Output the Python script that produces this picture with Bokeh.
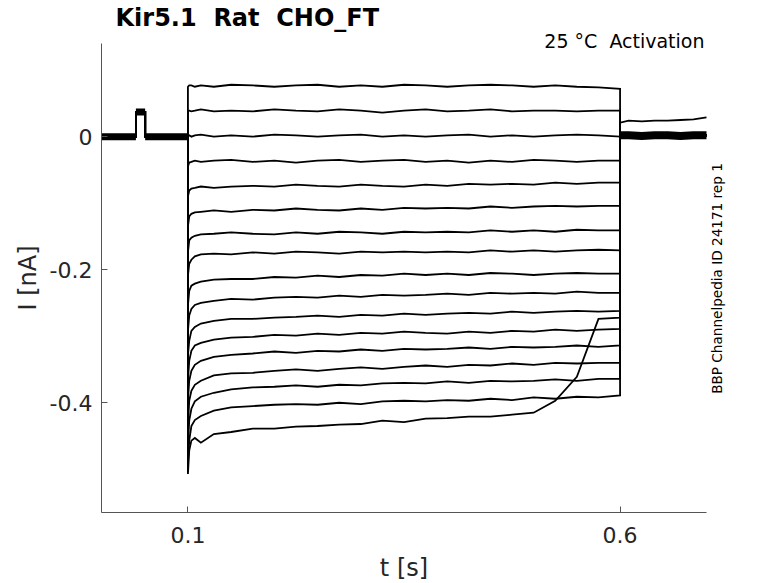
import math
from bokeh.plotting import figure
from bokeh.models import FixedTicker, Label, Range1d
from bokeh.embed import file_html
from bokeh.resources import INLINE

# ---------------- data ----------------
x_limits = (0.0, 0.7)
y_limits = (-0.565, 0.14)
x_ticks = [0.1, 0.6]
x_tick_labels = ["0.1", "0.6"]
y_ticks = [-0.4, -0.2, 0.0]
y_tick_labels = ["-0.4", "-0.2", "0"]

# holding period before the step (shared by all sweeps), with the small bump
t_pre = [0.0, 0.0398, 0.0398, 0.0505, 0.0505, 0.1]
i_pre = [0.0, 0.0, 0.037, 0.037, 0.0, 0.0]

# time points during the voltage step
t_step = [0.1, 0.1015, 0.104, 0.108, 0.115, 0.13, 0.15, 0.175, 0.2, 0.225, 0.25,
          0.275, 0.3, 0.325, 0.35, 0.375, 0.4, 0.425, 0.45, 0.475, 0.5, 0.525,
          0.55, 0.575, 0.6]

sweep_01 = [0.075, 0.077, 0.077, 0.075, 0.077, 0.075, 0.078, 0.077, 0.075, 0.077, 0.078, 0.075, 0.077,
            0.075, 0.078, 0.077, 0.075, 0.077, 0.078, 0.077, 0.075, 0.077, 0.075, 0.074, 0.072]
sweep_02 = [0.039, 0.039, 0.038, 0.039, 0.041, 0.038, 0.039, 0.038, 0.041, 0.039, 0.038, 0.041, 0.039,
            0.036, 0.039, 0.041, 0.038, 0.039, 0.041, 0.038, 0.039, 0.039, 0.038, 0.039, 0.039]
sweep_03 = [0.000, 0.002, 0.000, 0.002, 0.003, 0.000, 0.002, 0.000, 0.003, 0.002, 0.000, 0.002, 0.003,
            0.000, 0.002, 0.000, 0.002, 0.003, 0.000, 0.002, 0.000, 0.002, 0.003, 0.002, 0.000]
sweep_04 = [-0.045, -0.039, -0.038, -0.036, -0.038, -0.036, -0.035, -0.038, -0.036, -0.039, -0.036, -0.035, -0.038,
            -0.036, -0.035, -0.038, -0.036, -0.039, -0.036, -0.038, -0.035, -0.036, -0.038, -0.036, -0.036]
sweep_05 = [-0.090, -0.081, -0.078, -0.077, -0.075, -0.077, -0.075, -0.074, -0.075, -0.072, -0.074, -0.075, -0.072,
            -0.074, -0.075, -0.072, -0.074, -0.071, -0.072, -0.071, -0.072, -0.069, -0.071, -0.069, -0.069]
sweep_06 = [-0.135, -0.120, -0.116, -0.114, -0.113, -0.111, -0.113, -0.110, -0.111, -0.108, -0.110, -0.111, -0.108,
            -0.110, -0.107, -0.108, -0.107, -0.108, -0.105, -0.107, -0.105, -0.104, -0.105, -0.104, -0.104]
sweep_07 = [-0.174, -0.156, -0.152, -0.149, -0.147, -0.146, -0.144, -0.146, -0.147, -0.144, -0.146, -0.143, -0.144,
            -0.146, -0.143, -0.144, -0.143, -0.144, -0.141, -0.143, -0.141, -0.143, -0.140, -0.141, -0.141]
sweep_08 = [-0.209, -0.191, -0.185, -0.180, -0.177, -0.176, -0.177, -0.174, -0.176, -0.173, -0.174, -0.176, -0.173,
            -0.174, -0.173, -0.174, -0.173, -0.174, -0.171, -0.173, -0.171, -0.173, -0.171, -0.170, -0.171]
sweep_09 = [-0.254, -0.232, -0.224, -0.221, -0.218, -0.215, -0.214, -0.214, -0.211, -0.212, -0.209, -0.211, -0.208,
            -0.209, -0.206, -0.208, -0.206, -0.208, -0.205, -0.206, -0.208, -0.206, -0.205, -0.206, -0.206]
sweep_10 = [-0.292, -0.269, -0.259, -0.253, -0.250, -0.247, -0.244, -0.245, -0.242, -0.241, -0.242, -0.239, -0.241,
            -0.238, -0.239, -0.238, -0.236, -0.238, -0.235, -0.236, -0.235, -0.236, -0.233, -0.235, -0.235]
sweep_11 = [-0.329, -0.307, -0.292, -0.286, -0.281, -0.277, -0.274, -0.274, -0.272, -0.271, -0.269, -0.271, -0.268,
            -0.269, -0.266, -0.268, -0.266, -0.265, -0.266, -0.263, -0.265, -0.263, -0.262, -0.263, -0.262]
sweep_12 = [-0.367, -0.337, -0.322, -0.314, -0.310, -0.305, -0.302, -0.301, -0.298, -0.299, -0.296, -0.298, -0.295,
            -0.296, -0.293, -0.295, -0.296, -0.293, -0.295, -0.292, -0.293, -0.290, -0.292, -0.290, -0.289]
sweep_13 = [-0.397, -0.367, -0.352, -0.343, -0.337, -0.331, -0.328, -0.326, -0.323, -0.325, -0.322, -0.323, -0.320,
            -0.322, -0.319, -0.320, -0.319, -0.317, -0.319, -0.316, -0.317, -0.316, -0.314, -0.316, -0.314]
sweep_14 = [-0.435, -0.397, -0.382, -0.373, -0.367, -0.359, -0.356, -0.355, -0.352, -0.350, -0.352, -0.349, -0.347,
            -0.349, -0.346, -0.344, -0.346, -0.343, -0.344, -0.341, -0.343, -0.340, -0.341, -0.340, -0.340]
sweep_15 = [-0.465, -0.427, -0.409, -0.398, -0.391, -0.385, -0.380, -0.377, -0.376, -0.374, -0.376, -0.373, -0.374,
            -0.371, -0.370, -0.371, -0.368, -0.370, -0.367, -0.368, -0.367, -0.365, -0.367, -0.364, -0.364]
sweep_16 = [-0.490, -0.457, -0.435, -0.426, -0.420, -0.412, -0.407, -0.405, -0.403, -0.402, -0.403, -0.400, -0.402,
            -0.398, -0.397, -0.398, -0.396, -0.397, -0.394, -0.396, -0.392, -0.394, -0.391, -0.392, -0.389]
sweep_17 = [-0.507, -0.472, -0.457, -0.453, -0.460, -0.447, -0.444, -0.439, -0.439, -0.436, -0.435, -0.433, -0.432,
            -0.427, -0.429, -0.424, -0.423, -0.421, -0.421, -0.418, -0.415, -0.397, -0.361, -0.274, -0.272]

# after the step
t_tail = [0.6, 0.61, 0.625, 0.64, 0.655, 0.67, 0.685, 0.7]
i_tail = [0.002, 0.002, 0.001, 0.002, 0.002, 0.001, 0.002, 0.002]
i_tail_last = [0.021, 0.024, 0.023, 0.024, 0.024, 0.025, 0.026, 0.029]

sweeps = [sweep_01, sweep_02, sweep_03, sweep_04, sweep_05, sweep_06, sweep_07, sweep_08,
          sweep_09, sweep_10, sweep_11, sweep_12, sweep_13, sweep_14, sweep_15, sweep_16, sweep_17]

NB = "\u00a0"  # keeps the doubled spaces of the original texts visible
title_text = "Kir5.1" + NB + " Rat" + NB + " CHO_FT"
subtitle_text = "25 \u00b0C" + NB + " Activation"
side_text = "BBP Channelpedia ID 24171 rep 1"
x_label = "t [s]"
y_label = "I [nA]"

# ---------------- layout geometry (pixels) ----------------
W, H = 778, 583
AX_LEFT, AX_RIGHT, AX_TOP, AX_BOTTOM = 101, 706, 43, 512   # axes box of the original chart

# the frame covers the whole canvas so that every text stays inside it;
# the axes are pinned to the axes box with fixed_location and bounds
px_per_x = (AX_RIGHT - AX_LEFT) / (x_limits[1] - x_limits[0])
px_per_y = (AX_BOTTOM - AX_TOP) / (y_limits[1] - y_limits[0])
x_start = x_limits[0] - AX_LEFT / px_per_x
x_end = x_limits[0] + (W - AX_LEFT) / px_per_x
y_start = y_limits[0] - (H - AX_BOTTOM) / px_per_y
y_end = y_limits[0] + AX_BOTTOM / px_per_y

def xpx(px):   # page pixel -> data x
    return x_limits[0] + (px - AX_LEFT) / px_per_x

def ypx(py):   # page pixel -> data y
    return y_limits[0] + (AX_BOTTOM - py) / px_per_y

FONT = "DejaVu Sans"
TXT = "#262626"

p = figure(width=W, height=H, output_backend="svg", toolbar_location=None,
           x_range=Range1d(x_start, x_end), y_range=Range1d(y_start, y_end),
           min_border=0)
p.outline_line_color = None
p.grid.visible = False
p.background_fill_color = "white"
p.border_fill_color = "white"

xs, ys = [], []
for k, s in enumerate(sweeps):
    tail = i_tail_last if k == len(sweeps) - 1 else i_tail
    xs.append(t_pre + t_step + t_tail)
    ys.append(i_pre + s + tail)
p.multi_line(xs, ys, line_color="black", line_width=1.8, line_join="miter")

# noisy overlapping baseline/tail bands appear thick: draw them thicker
def split_jumps(t, v):
    bx, by = [], []
    for j in range(len(t)):
        if j > 0 and t[j] == t[j - 1]:
            bx.append(float("nan")); by.append(float("nan"))
        bx.append(t[j]); by.append(v[j])
    return bx, by

bx, by = split_jumps(t_pre, i_pre)
p.line(bx, by, line_color="black", line_width=7, line_cap="butt")
p.line(t_tail, i_tail, line_color="black", line_width=8, line_cap="butt")

# axes
for ax in (p.xaxis, p.yaxis):
    ax.axis_line_color = "#555555"
    ax.axis_line_width = 1
    ax.major_tick_line_color = "#555555"
    ax.major_tick_in = 6
    ax.major_tick_out = 0
    ax.minor_tick_line_color = None
    ax.major_label_text_font = FONT
    ax.major_label_text_font_size = "22px"
    ax.major_label_text_color = TXT

p.xaxis.fixed_location = y_limits[0]
p.yaxis.fixed_location = x_limits[0]
p.xaxis.bounds = x_limits
p.yaxis.bounds = y_limits
p.xaxis.ticker = FixedTicker(ticks=x_ticks)
p.xaxis.major_label_overrides = {t: l for t, l in zip(x_ticks, x_tick_labels)}
p.yaxis.ticker = FixedTicker(ticks=y_ticks)
p.yaxis.major_label_overrides = {t: l for t, l in zip(y_ticks, y_tick_labels)}
p.xaxis.major_label_standoff = 14
p.yaxis.major_label_standoff = 9

# axis titles centred on the axes box, as in the original
p.add_layout(Label(x=xpx((AX_LEFT + AX_RIGHT) / 2), y=ypx(567), text=x_label, text_font=FONT,
                   text_font_size="24px", text_color=TXT,
                   text_align="center", text_baseline="middle"))
p.add_layout(Label(x=xpx(27.5), y=ypx((AX_TOP + AX_BOTTOM) / 2), text=y_label, text_font=FONT,
                   text_font_size="24px", text_color=TXT, angle=math.pi / 2,
                   text_align="center", text_baseline="middle"))

p.add_layout(Label(x=xpx(115), y=ypx(17), text=title_text, text_font=FONT,
                   text_font_size="24px", text_font_style="bold", text_color="black",
                   text_align="left", text_baseline="middle"))
p.add_layout(Label(x=xpx(704), y=ypx(40.5), text=subtitle_text, text_font=FONT,
                   text_font_size="19px", text_color="black",
                   text_align="right", text_baseline="middle"))
p.add_layout(Label(x=xpx(716), y=ypx(278), text=side_text, text_font=FONT,
                   text_font_size="13.6px", text_color="black", angle=math.pi / 2,
                   text_align="center", text_baseline="middle"))

open("out.html", "w").write(file_html(p, INLINE))
